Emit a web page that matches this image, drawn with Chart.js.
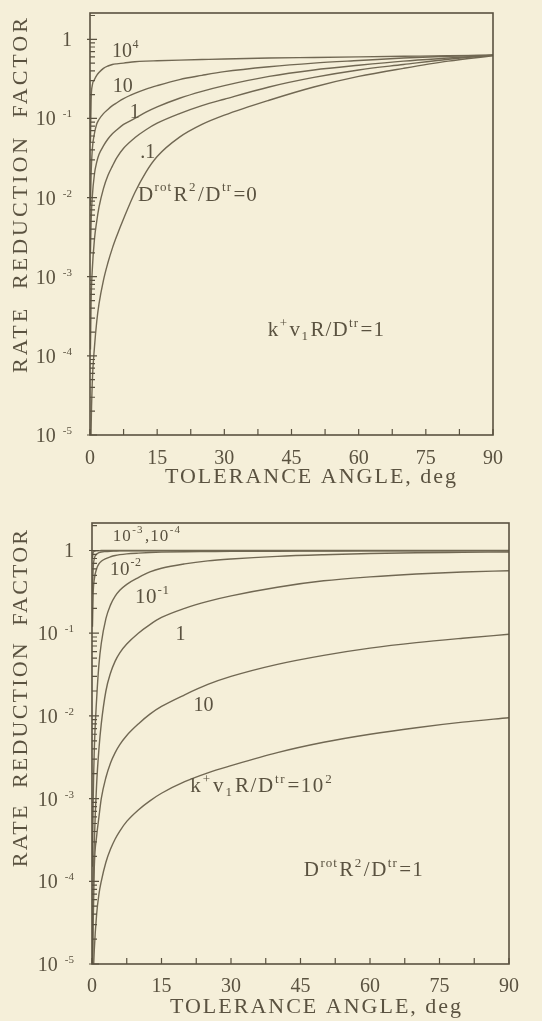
<!DOCTYPE html>
<html>
<head>
<meta charset="utf-8">
<script src="https://cdn.jsdelivr.net/npm/chart.js@4.4.1/dist/chart.umd.min.js"></script>
<style>
  html, body { margin: 0; padding: 0; background: #f5efd9; }
  .panel { position: absolute; left: 0; width: 542px; }
</style>
</head>
<body>
<div class="panel" style="top:0;height:510px"><canvas id="chartTop"></canvas></div>
<div class="panel" style="top:510px;height:511px"><canvas id="chartBottom"></canvas></div>
<script>
// tolerance angle, deg
const angles = [0.1, 0.25, 0.5, 1, 1.5, 2, 3, 4, 5, 6, 7.5, 10, 12.5, 15, 20, 25, 30, 40, 50, 60, 70, 80, 90];

// upper panel: k+v1R/Dtr = 1, one curve per Drot R^2/Dtr
const upRot1e4 = [0.05, 0.17, 0.26, 0.31, 0.35, 0.38, 0.43, 0.46, 0.48, 0.49, 0.50, 0.52, 0.53, 0.535, 0.545, 0.555, 0.565, 0.58, 0.59, 0.60, 0.61, 0.62, 0.63];
const upRot10 = [0.008, 0.02, 0.04, 0.065, 0.085, 0.097, 0.115, 0.13, 0.145, 0.158, 0.178, 0.207, 0.235, 0.26, 0.31, 0.35, 0.39, 0.45, 0.50, 0.54, 0.58, 0.61, 0.63];
const upRot1 = [0.002, 0.005, 0.01, 0.02, 0.028, 0.035, 0.045, 0.055, 0.064, 0.072, 0.084, 0.10, 0.12, 0.14, 0.18, 0.22, 0.26, 0.34, 0.41, 0.47, 0.53, 0.58, 0.63];
const upRot01 = [0.00012, 0.0005, 0.0012, 0.003, 0.005, 0.0075, 0.013, 0.019, 0.025, 0.032, 0.042, 0.057, 0.072, 0.087, 0.115, 0.145, 0.175, 0.25, 0.33, 0.41, 0.48, 0.56, 0.63];
const upRot0 = [0.000002, 0.000012, 0.000045, 0.00013, 0.00027, 0.00045, 0.0009, 0.0015, 0.0023, 0.0033, 0.0054, 0.0115, 0.021, 0.033, 0.058, 0.084, 0.11, 0.17, 0.25, 0.34, 0.43, 0.53, 0.62];

// lower panel: Drot R^2/Dtr = 1, one curve per k+v1R/Dtr
const lowK1e4 = [0.8, 0.95, 0.98, 0.99, 0.995, 1, 1, 1, 1, 1, 1, 1, 1, 1, 1, 1, 1, 1, 1, 1, 1, 1, 1];
const lowK1e3 = [0.3, 0.6, 0.8, 0.9, 0.94, 0.96, 0.97, 0.98, 0.985, 0.99, 0.99, 0.99, 0.99, 0.99, 0.99, 0.99, 0.99, 0.995, 0.995, 0.995, 0.995, 0.995, 0.995];
const lowK1e2 = [0.12, 0.3, 0.45, 0.6, 0.69, 0.74, 0.8, 0.84, 0.87, 0.89, 0.91, 0.93, 0.945, 0.955, 0.965, 0.97, 0.975, 0.98, 0.985, 0.99, 0.99, 0.99, 0.99];
const lowK1e1 = [0.00015, 0.0009, 0.004, 0.016, 0.042, 0.075, 0.15, 0.22, 0.28, 0.33, 0.39, 0.47, 0.55, 0.61, 0.69, 0.75, 0.79, 0.85, 0.89, 0.92, 0.94, 0.95, 0.96];
const lowK1 = [0.00001, 0.00008, 0.0003, 0.0015, 0.004, 0.008, 0.02, 0.033, 0.046, 0.058, 0.074, 0.10, 0.127, 0.155, 0.2, 0.243, 0.283, 0.36, 0.43, 0.48, 0.52, 0.55, 0.57];
const lowK10 = [0.000005, 0.00003, 0.00015, 0.00035, 0.0006, 0.001, 0.0018, 0.0027, 0.0036, 0.0045, 0.0058, 0.008, 0.0105, 0.013, 0.018, 0.024, 0.03, 0.042, 0.054, 0.066, 0.077, 0.087, 0.097];
const lowK100 = [0.000002, 0.000006, 0.000015, 0.00004, 0.00007, 0.0001, 0.00017, 0.000245, 0.000325, 0.000405, 0.00053, 0.00073, 0.00094, 0.00116, 0.0016, 0.00205, 0.0025, 0.0036, 0.0048, 0.006, 0.0072, 0.0084, 0.0095];

const xTickValues = [0, 7.5, 15, 22.5, 30, 37.5, 45, 52.5, 60, 67.5, 75, 82.5, 90];
const yMin = 1e-5;
const yMax = 2.15;

const ink = '#5a5240';
const curveInk = '#716853';
const serif = '"Liberation Serif", "DejaVu Serif", serif';

// curve labels, anchored at data coords (baseline, left)
const upLabels = [
  { x: 4.9, y: 0.59, size: 20, gap: 0, parts: [['10'], ['4', 'sup']] },
  { x: 5.1, y: 0.213, size: 20, gap: 0, parts: [['10']] },
  { x: 8.9, y: 0.10, size: 20, gap: 0, parts: [['1']] },
  { x: 11.2, y: 0.032, size: 20, gap: 0, parts: [['.1']] },
  { x: 10.7, y: 0.0091, size: 21, gap: 1, parts: [['D'], ['rot', 'sup'], ['R'], ['2', 'sup'], ['/'], ['D'], ['tr', 'sup'], ['=0']] },
  { x: 39.7, y: 1.78e-4, size: 21, gap: 1, parts: [['k'], ['+', 'sup'], ['v'], ['1', 'sub'], ['R/D'], ['tr', 'sup'], ['=1']] },
];
const lowLabels = [
  { x: 4.5, y: 1.32, size: 17, gap: 1, parts: [['10'], ['-3', 'sup'], [',10'], ['-4', 'sup']] },
  { x: 3.9, y: 0.51, size: 19, gap: 0.5, parts: [['10'], ['-2', 'sup']] },
  { x: 9.3, y: 0.232, size: 21, gap: 0.5, parts: [['10'], ['-1', 'sup']] },
  { x: 18, y: 0.082, size: 20, gap: 0, parts: [['1']] },
  { x: 21.9, y: 0.0115, size: 20, gap: 0, parts: [['10']] },
  { x: 21.2, y: 1.2e-3, size: 21, gap: 1.5, parts: [['k'], ['+', 'sup'], ['v'], ['1', 'sub'], ['R/D'], ['tr', 'sup'], ['=10'], ['2', 'sup']] },
  { x: 45.7, y: 1.15e-4, size: 21, gap: 1, parts: [['D'], ['rot', 'sup'], ['R'], ['2', 'sup'], ['/'], ['D'], ['tr', 'sup'], ['=1']] },
];

function drawRich(ctx, x, y, parts, size, gap) {
  let cx = x;
  ctx.textAlign = 'left';
  ctx.textBaseline = 'alphabetic';
  ctx.letterSpacing = gap + 'px';
  for (const [t, kind] of parts) {
    const s = kind ? Math.round(size * 0.62) : size;
    ctx.font = `${s}px ${serif}`;
    const dy = kind === 'sup' ? -size * 0.45 : kind === 'sub' ? size * 0.2 : 0;
    ctx.fillText(t, cx, y + dy);
    cx += ctx.measureText(t).width + (kind ? 1.5 : 0.5);
  }
  ctx.letterSpacing = '0px';
}

const isDecade = (v) => Math.abs(Math.log10(v) - Math.round(Math.log10(v))) < 1e-6;

const framePlugin = {
  id: 'frame',
  afterDraw(chart, args, opts) {
    const { ctx, chartArea: a, scales: { x, y } } = chart;
    ctx.save();
    ctx.strokeStyle = ink;
    ctx.fillStyle = ink;
    ctx.lineWidth = 1.6;
    ctx.strokeRect(a.left, a.top, a.right - a.left, a.bottom - a.top);

    // ticks pointing inward
    ctx.lineWidth = 1.2;
    ctx.beginPath();
    x.ticks.forEach((t) => {
      const px = x.getPixelForValue(t.value);
      ctx.moveTo(px, a.bottom);
      ctx.lineTo(px, a.bottom - 6);
    });
    y.ticks.forEach((t) => {
      const py = y.getPixelForValue(t.value);
      const major = isDecade(t.value);
      ctx.moveTo(a.left - (major ? 3 : 0), py);
      ctx.lineTo(a.left + (major ? 7 : 5), py);
    });
    ctx.stroke();

    // decade labels with small raised exponent
    y.ticks.forEach((t) => {
      if (!isDecade(t.value)) return;
      const py = y.getPixelForValue(t.value);
      const e = Math.round(Math.log10(t.value));
      const right = a.left - 18;
      ctx.textAlign = 'left';
      ctx.textBaseline = 'alphabetic';
      if (e === 0) {
        ctx.font = `20px ${serif}`;
        ctx.fillText('1', right - ctx.measureText('1').width, py + 7);
        return;
      }
      ctx.font = `11px ${serif}`;
      const sw = ctx.measureText(String(e)).width;
      ctx.font = `20px ${serif}`;
      const bw = ctx.measureText('10').width;
      ctx.fillText('10', right - sw - 7 - bw, py + 7);
      ctx.font = `11px ${serif}`;
      ctx.fillText(String(e), right - sw, py - 1);
    });

    // axis titles
    ctx.font = `22px ${serif}`;
    ctx.textBaseline = 'alphabetic';
    ctx.textAlign = 'center';
    ctx.letterSpacing = opts.xSpacing + 'px';
    ctx.fillText('TOLERANCE ANGLE, deg', (a.left + a.right) / 2 + opts.xTitleShift, opts.xTitleBaseline);
    ctx.save();
    ctx.letterSpacing = opts.ySpacing + 'px';
    ctx.translate(opts.yTitleX, (a.top + a.bottom) / 2 + opts.yTitleShift);
    ctx.rotate(-Math.PI / 2);
    ctx.textBaseline = 'middle';
    ctx.fillText('RATE  REDUCTION  FACTOR', 0, 0);
    ctx.restore();
    ctx.letterSpacing = '0px';

    // curve labels
    opts.labels.forEach((l) => {
      drawRich(ctx, x.getPixelForValue(l.x), y.getPixelForValue(l.y), l.parts, l.size, l.gap);
    });
    ctx.restore();
  },
};

function makeChart(id, series, labels, geo) {
  return new Chart(document.getElementById(id), {
    type: 'line',
    data: {
      datasets: series.map((vals) => ({
        data: angles.map((a, i) => ({ x: a, y: vals[i] })),
        borderColor: curveInk,
        borderWidth: 1.4,
        pointRadius: 0,
        fill: false,
        cubicInterpolationMode: 'monotone',
      })),
    },
    options: {
      responsive: true,
      maintainAspectRatio: false,
      animation: false,
      layout: { padding: { left: 0, right: geo.padRight, top: 13, bottom: 0 } },
      plugins: {
        legend: { display: false },
        tooltip: { enabled: false },
        frame: {
          labels: labels,
          xTitleShift: geo.xTitleShift,
          xTitleBaseline: geo.xTitleBaseline,
          yTitleX: 21,
          yTitleShift: geo.yTitleShift,
          xSpacing: 2,
          ySpacing: geo.ySpacing,
        },
      },
      scales: {
        x: {
          type: 'linear',
          min: 0,
          max: 90,
          afterBuildTicks: (s) => { s.ticks = xTickValues.map((v) => ({ value: v })); },
          afterFit: (s) => { s.height = geo.xHeight; },
          grid: { display: false, drawTicks: false },
          border: { display: false },
          ticks: {
            autoSkip: false,
            maxRotation: 0,
            padding: geo.xPad,
            color: ink,
            font: { family: serif, size: 20 },
            callback: (v) => (v % 15 === 0 ? String(v) : ''),
          },
        },
        y: {
          type: 'logarithmic',
          min: yMin,
          max: yMax,
          afterBuildTicks: (s) => {
            const t = [];
            for (let e = -5; e <= 0; e++) {
              for (let m = 1; m <= 9; m++) {
                const v = m * Math.pow(10, e);
                if (v >= yMin && v <= yMax) t.push({ value: v });
              }
            }
            s.ticks = t;
          },
          afterFit: (s) => { s.width = geo.yWidth; },
          grid: { display: false, drawTicks: false },
          border: { display: false },
          ticks: { display: false },
        },
      },
    },
    plugins: [framePlugin],
  });
}

Chart.defaults.color = ink;

makeChart('chartTop', [upRot1e4, upRot10, upRot1, upRot01, upRot0], upLabels, {
  padRight: 49, yWidth: 90, xHeight: 75, xPad: 12,
  xTitleShift: 20, xTitleBaseline: 483, yTitleShift: -30, ySpacing: 3,
});
makeChart('chartBottom', [lowK1e4, lowK1e3, lowK1e2, lowK1e1, lowK1, lowK10, lowK100], lowLabels, {
  padRight: 33, yWidth: 92, xHeight: 57, xPad: 11,
  xTitleShift: 16, xTitleBaseline: 503, yTitleShift: -46, ySpacing: 2.2,
});
</script>
</body>
</html>
